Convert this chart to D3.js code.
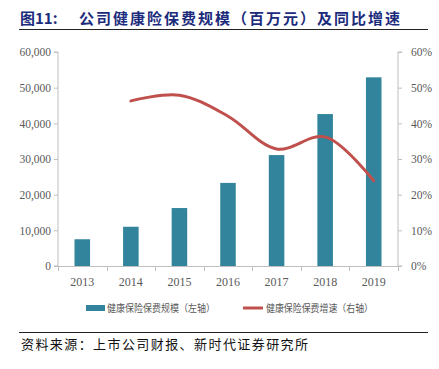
<!DOCTYPE html>
<html><head><meta charset="utf-8">
<script src="https://cdn.jsdelivr.net/npm/d3@7"></script>
<style>body{margin:0;background:#fff;}svg{display:block;}</style>
</head><body>
<svg id="c" width="439" height="369"></svg>
<script>
const years = ["2013","2014","2015","2016","2017","2018","2019"];
const premiums = [7500, 11000, 16250, 23300, 31100, 42600, 52900];
const growthYears = ["2014","2015","2016","2017","2018","2019"];
const growth = [0.463, 0.479, 0.420, 0.328, 0.362, 0.239];
const leftTicks = [0,10000,20000,30000,40000,50000,60000];
const rightTicks = [0,0.1,0.2,0.3,0.4,0.5,0.6];
const titleLabel = "图11:";
const titleText = "公司健康险保费规模（百万元）及同比增速";
const legendBar = "健康保险保费规模（左轴）";
const legendLine = "健康保险保费增速（右轴）";
const sourceText = "资料来源：上市公司财报、新时代证券研究所";

const svg = d3.select("#c");
const L = 58, R = 398, T = 52, B = 266;
const x = d3.scaleBand().domain(years).range([L, R]).paddingInner(0.68).paddingOuter(0.34);
const yL = d3.scaleLinear().domain([0, 60000]).range([B, T]);
const yR = d3.scaleLinear().domain([0, 0.6]).range([B, T]);
const axisColor = "#bfbfbf", labelColor = "#595959";
const serif = "'Liberation Serif','Times New Roman',serif";
const cjk = "'Noto Sans CJK SC','Noto Sans CJK JP',sans-serif";

// Title
svg.append("text").attr("x", 20).attr("y", 24).attr("fill", "#1c2c7c")
  .attr("font-family", cjk).attr("font-weight", "bold").attr("font-size", 15)
  .text(titleLabel);
svg.append("text").attr("x", 79).attr("y", 24).attr("fill", "#1c2c7c")
  .attr("font-family", cjk).attr("font-weight", "bold").attr("font-size", 15)
  .attr("textLength", 321).attr("lengthAdjust", "spacing")
  .text(titleText);
svg.append("line").attr("x1", 19).attr("x2", 428).attr("y1", 29.5).attr("y2", 29.5)
  .attr("stroke", "#222").attr("stroke-width", 1);

// Left axis
const gL = svg.append("g").attr("transform", `translate(${L},0)`)
  .call(d3.axisLeft(yL).tickValues(leftTicks).tickSize(4).tickPadding(3).tickFormat(d3.format(",")));
gL.select(".domain").attr("stroke", axisColor).attr("d", `M-4,${T}H0V${B}H-4`);
gL.selectAll(".tick line").attr("stroke", axisColor);
gL.selectAll(".tick text").attr("fill", labelColor).attr("font-family", serif).attr("font-size", 11.5);

// Right axis
const gR = svg.append("g").attr("transform", `translate(${R},0)`)
  .call(d3.axisRight(yR).tickValues(rightTicks).tickSize(4).tickPadding(9).tickFormat(d3.format(".0%")));
gR.select(".domain").attr("stroke", axisColor).attr("d", `M4,${T}H0V${B}H4`);
gR.selectAll(".tick line").attr("stroke", axisColor);
gR.selectAll(".tick text").attr("fill", labelColor).attr("font-family", serif).attr("font-size", 11.5);

// X axis
const gX = svg.append("g");
gX.append("line").attr("x1", L).attr("x2", R).attr("y1", B + 0.5).attr("y2", B + 0.5).attr("stroke", axisColor);
const bounds = years.map(y => x(y) - x.step() * 0.34).concat([R]);
gX.selectAll("line.tk").data(bounds).enter().append("line")
  .attr("x1", d => Math.round(d) + 0.5).attr("x2", d => Math.round(d) + 0.5)
  .attr("y1", B).attr("y2", B + 5).attr("stroke", axisColor);
gX.selectAll("text").data(years).enter().append("text")
  .attr("x", d => x(d) + x.bandwidth() / 2).attr("y", 286).attr("text-anchor", "middle")
  .attr("fill", labelColor).attr("font-family", serif).attr("font-size", 12).text(d => d);

// Bars
svg.append("g").selectAll("rect").data(years).enter().append("rect")
  .attr("x", d => x(d)).attr("width", x.bandwidth())
  .attr("y", (d, i) => yL(premiums[i])).attr("height", (d, i) => B - yL(premiums[i]))
  .attr("fill", "#31849b");

// Line
const line = d3.line()
  .x((d, i) => x(growthYears[i]) + x.bandwidth() / 2)
  .y(d => yR(d))
  .curve(d3.curveCatmullRom.alpha(0.5));
svg.append("path").datum(growth).attr("d", line).attr("fill", "none")
  .attr("stroke", "#c0504d").attr("stroke-width", 3).attr("stroke-linecap", "round");

// Legend
svg.append("rect").attr("x", 86).attr("y", 305).attr("width", 19).attr("height", 6).attr("fill", "#31849b");
svg.append("text").attr("x", 107).attr("y", 312).attr("font-family", cjk).attr("font-size", 10)
  .attr("fill", labelColor).attr("textLength", 108).attr("lengthAdjust", "spacingAndGlyphs").text(legendBar);
svg.append("line").attr("x1", 243).attr("x2", 263).attr("y1", 308).attr("y2", 308)
  .attr("stroke", "#c0504d").attr("stroke-width", 3);
svg.append("text").attr("x", 266).attr("y", 312).attr("font-family", cjk).attr("font-size", 10)
  .attr("fill", labelColor).attr("textLength", 107).attr("lengthAdjust", "spacingAndGlyphs").text(legendLine);

// Source
svg.append("line").attr("x1", 19).attr("x2", 428).attr("y1", 332.5).attr("y2", 332.5)
  .attr("stroke", "#222").attr("stroke-width", 1);
svg.append("text").attr("x", 21).attr("y", 349).attr("font-family", cjk).attr("font-size", 13)
  .attr("fill", "#111").attr("textLength", 287).attr("lengthAdjust", "spacing").text(sourceText);
</script>
</body></html>
